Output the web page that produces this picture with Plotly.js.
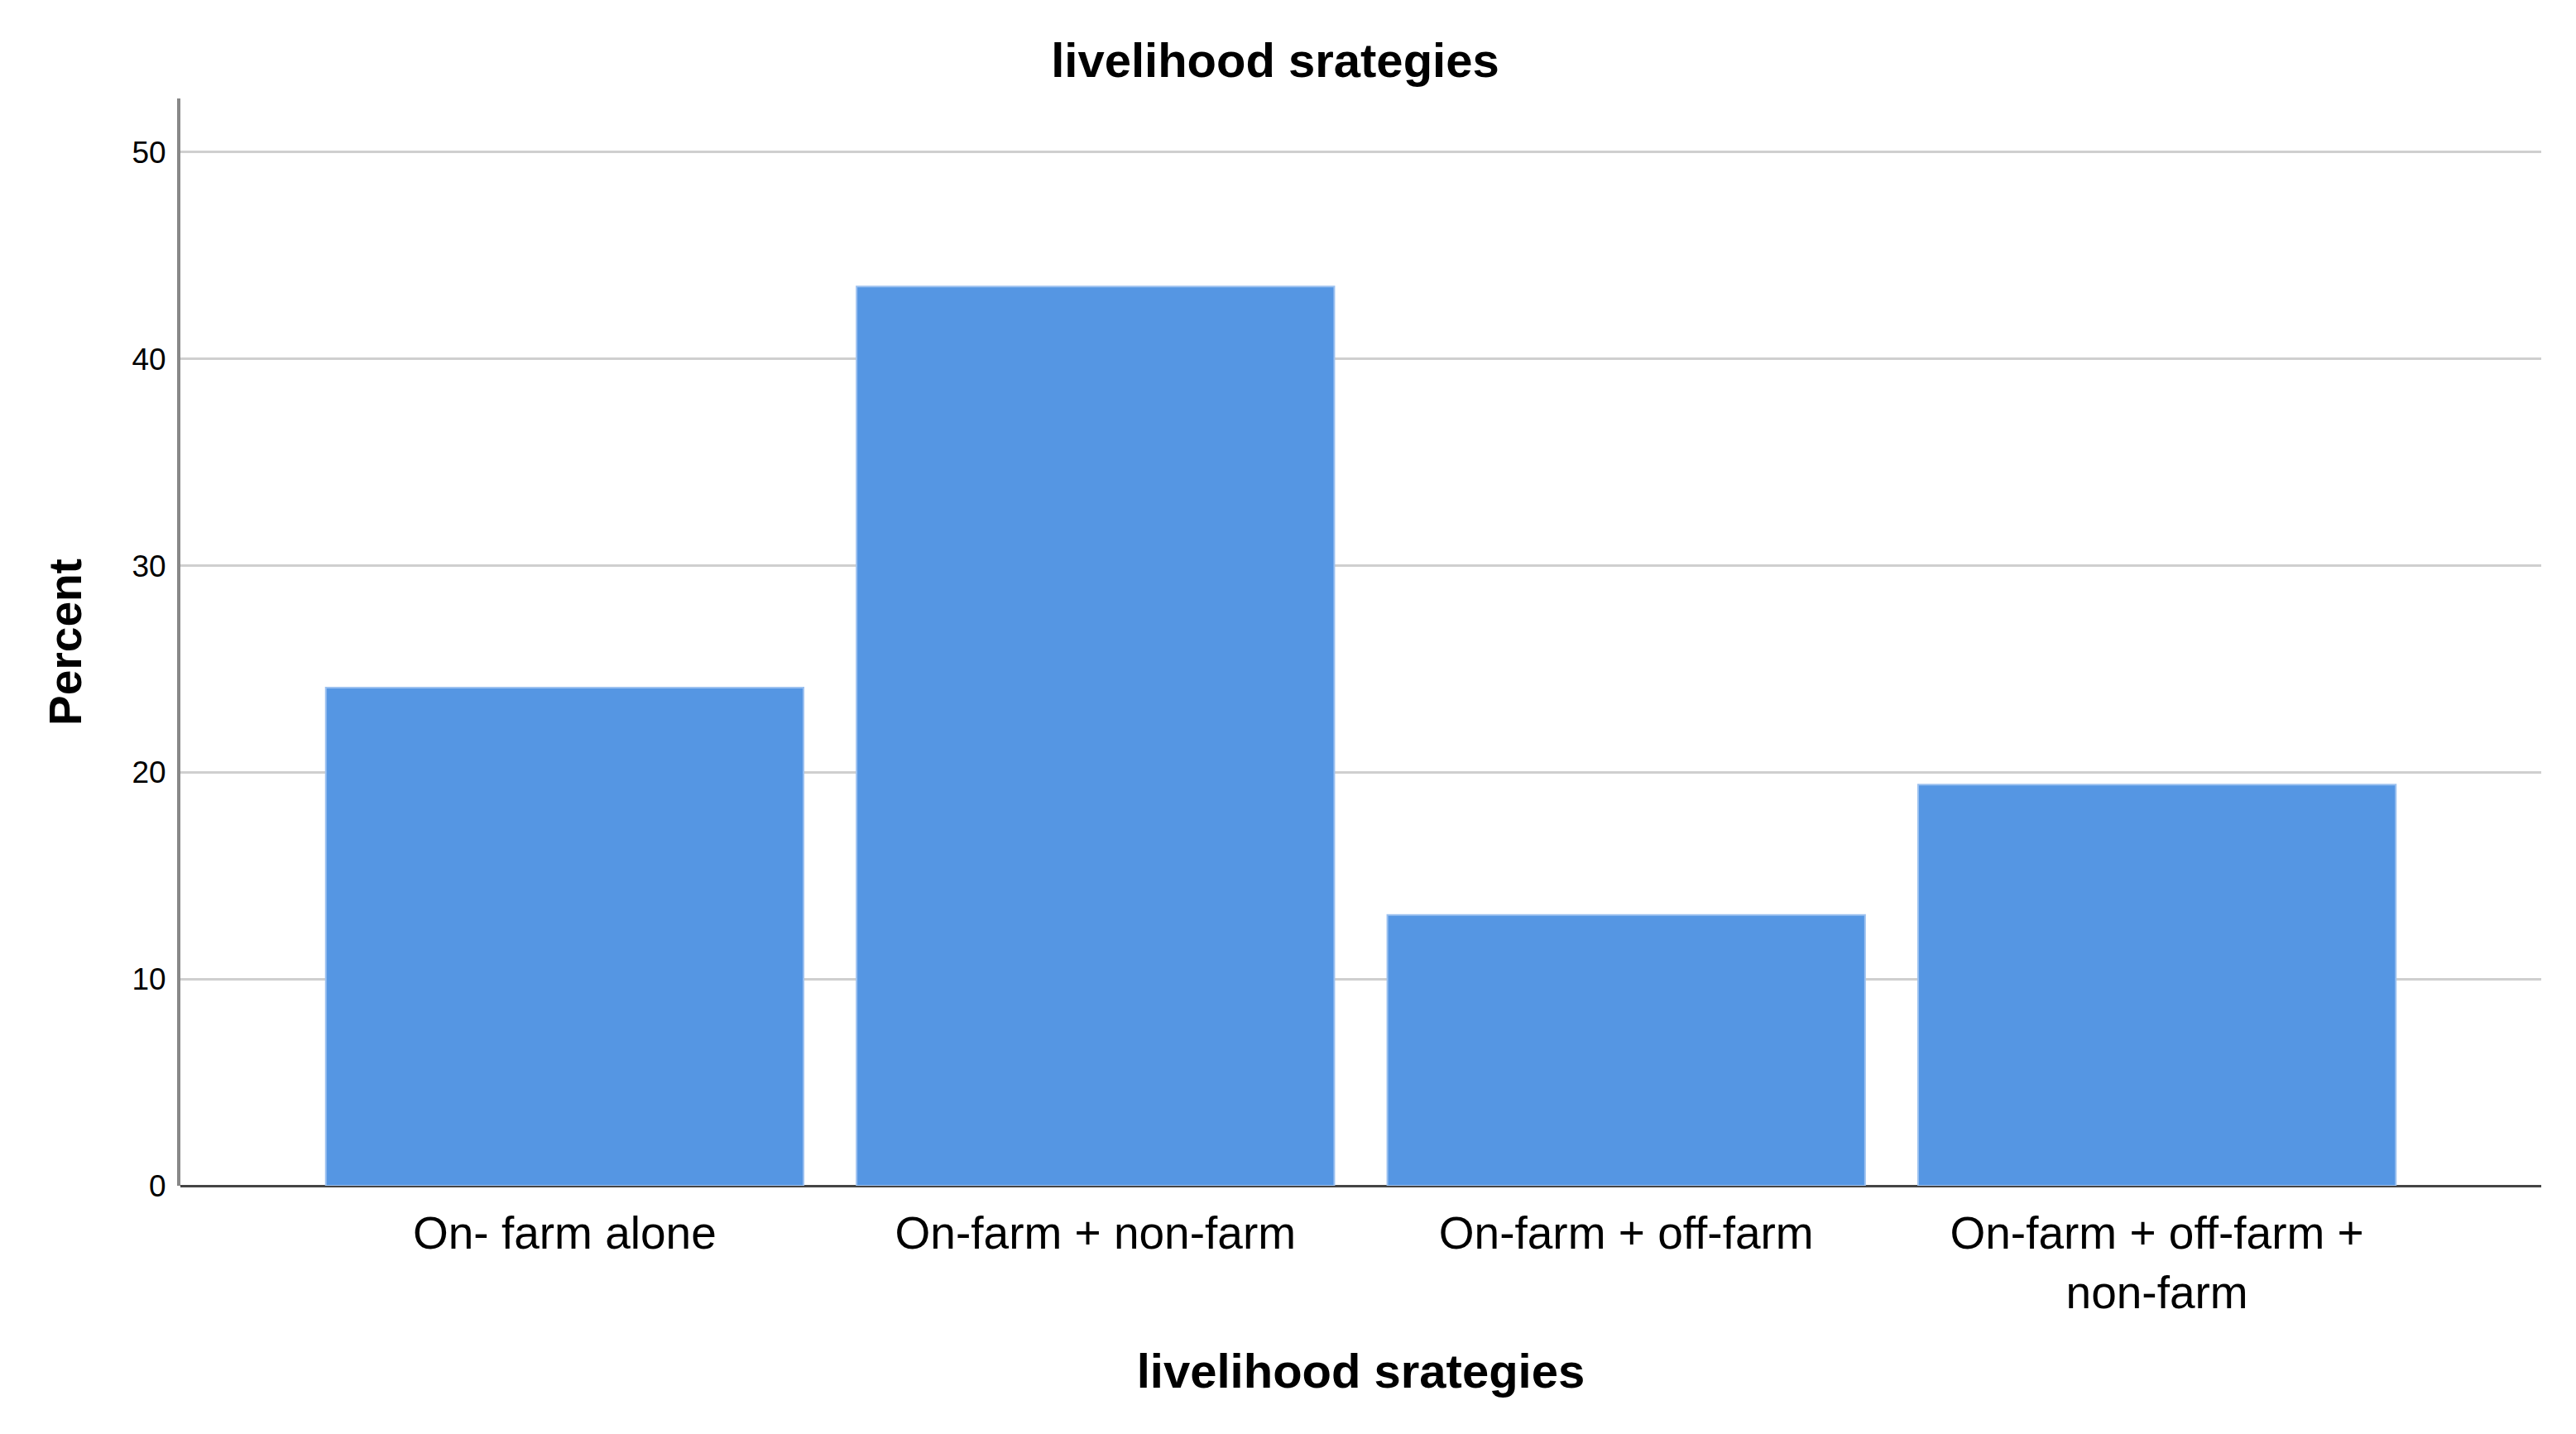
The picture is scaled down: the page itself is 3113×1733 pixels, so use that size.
<!DOCTYPE html>
<html>
<head>
<meta charset="utf-8">
<script src="https://cdn.plot.ly/plotly-3.0.1.min.js"></script>
<style>
  html, body { margin: 0; padding: 0; background: #ffffff; }
  #chart { width: 3113px; height: 1733px; }
</style>
</head>
<body>
<div id="chart"></div>
<script>
const categories = ["On- farm alone", "On-farm + non-farm", "On-farm + off-farm", "On-farm + off-farm +<br>non-farm"];
const percentValues = [24.1, 43.5, 13.1, 19.4];
const yTickValues = [0, 10, 20, 30, 40, 50];
const chartTitle = "livelihood srategies";
const xTitle = "livelihood srategies";
const yTitle = "Percent";

const FONT = "Liberation Sans, Arial, Helvetica, sans-serif";

const trace = {
  type: "bar",
  x: categories,
  y: percentValues,
  marker: { color: "#5596E3", line: { color: "#9cc1f0", width: 2 } },
  hoverinfo: "x+y"
};

const layout = {
  width: 3113,
  height: 1733,
  paper_bgcolor: "#ffffff",
  plot_bgcolor: "#ffffff",
  margin: { l: 218, r: 42, t: 119, b: 300 },
  bargap: 0.1,
  showlegend: false,
  title: {
    text: "<b>" + chartTitle + "</b>",
    font: { family: FONT, size: 58, color: "#000000" },
    x: 0.495, xref: "container", xanchor: "center",
    y: 0.958, yref: "container", yanchor: "middle"
  },
  xaxis: {
    type: "category",
    range: [-0.724, 3.724],
    showgrid: false,
    zeroline: false,
    showline: false,
    ticks: "",
    ticklabelstandoff: 20,
    tickfont: { family: FONT, size: 55, color: "#000000" },
    title: {
      text: "<b>" + xTitle + "</b>",
      font: { family: FONT, size: 58, color: "#000000" },
      standoff: 44
    },
    automargin: false
  },
  yaxis: {
    range: [0, 52.6],
    tickvals: yTickValues,
    ticktext: yTickValues.map(String),
    showgrid: true,
    gridcolor: "#cfcfcf",
    gridwidth: 3,
    zeroline: true,
    zerolinecolor: "#444444",
    zerolinewidth: 3,
    showline: true,
    linecolor: "#888888",
    linewidth: 4,
    ticks: "",
    ticklabelstandoff: 6,
    tickfont: { family: FONT, size: 37, color: "#000000" },
    title: {
      text: "<b>" + yTitle + "</b>",
      font: { family: FONT, size: 55, color: "#000000" },
      standoff: 44
    },
    automargin: false
  }
};

Plotly.newPlot("chart", [trace], layout, { displayModeBar: false, staticPlot: true });
</script>
</body>
</html>
